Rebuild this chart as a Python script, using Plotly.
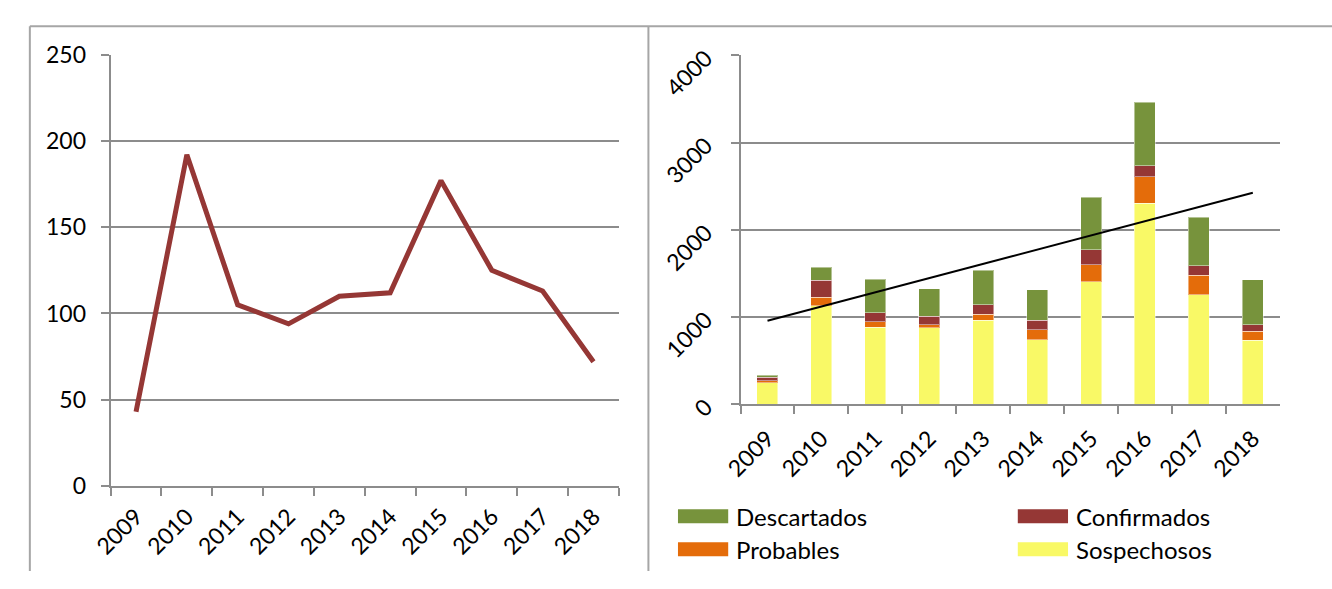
import numpy as np
import plotly.graph_objects as go

years = ["2009", "2010", "2011", "2012", "2013", "2014", "2015", "2016", "2017", "2018"]

confirmados = [43, 192, 105, 94, 110, 112, 177, 125, 113, 72]
sospechosos = [245, 1130, 884, 874, 960, 740, 1401, 2303, 1256, 736]
probables = [22, 97, 62, 39, 72, 112, 195, 307, 221, 102]
descartados = [22, 151, 382, 314, 392, 350, 599, 727, 551, 516]

left_yticks = [0, 50, 100, 150, 200, 250]
right_yticks = [0, 1000, 2000, 3000, 4000]

series = [
    ("Sospechosos", sospechosos, "#F9F966"),
    ("Probables", probables, "#E46C0A"),
    ("Confirmados", confirmados, "#953735"),
    ("Descartados", descartados, "#77933C"),
]

W, H = 1332, 589
FONT = "Lato, Carlito, Calibri, sans-serif"
GRID = "#8c8c8c"
FRAME = "#a6a6a6"

fig = go.Figure()

# Left chart: confirmed cases
fig.add_trace(go.Scatter(
    x=years, y=confirmados, mode="lines",
    line=dict(color="#953735", width=5),
    xaxis="x", yaxis="y", showlegend=False, hoverinfo="x+y",
))

# Right chart: stacked bars
for name, vals, col in series:
    fig.add_trace(go.Bar(
        x=years, y=vals, name=name,
        marker=dict(color=col, line=dict(color="rgba(255,255,255,0.45)", width=1)),
        xaxis="x2", yaxis="y2", showlegend=False,
    ))

# Linear trend of the totals
totals = np.array(sospechosos) + np.array(probables) + np.array(confirmados) + np.array(descartados)
idx = np.arange(len(years))
slope, intercept = np.polyfit(idx, totals, 1)
trend = slope * idx + intercept
fig.add_trace(go.Scatter(
    x=years, y=trend, mode="lines", line=dict(color="black", width=2),
    xaxis="x2", yaxis="y2", showlegend=False, hoverinfo="skip",
))

def px(x):
    return x / W

def py(y):
    return 1 - y / H

axis_common = dict(
    showline=True, linecolor=GRID, linewidth=2,
    ticks="outside", ticklen=8, tickwidth=2, tickcolor=GRID,
    tickfont=dict(family=FONT, size=23, color="black"),
    zeroline=False, fixedrange=True,
)

fig.update_layout(
    width=W, height=H,
    margin=dict(l=0, r=0, t=0, b=0),
    paper_bgcolor="white", plot_bgcolor="white",
    barmode="stack", bargap=0.61,
    font=dict(family=FONT, color="black"),
    xaxis=dict(domain=[px(92), px(608)], anchor="y", type="category",
               tickson="boundaries", tickangle=-45, showgrid=False,
               range=[-0.5, 9.5], ticklabelstandoff=6, **axis_common),
    yaxis=dict(domain=[py(499), py(42)], anchor="x", range=[0, 250],
               tickvals=left_yticks, showgrid=True, gridcolor=GRID, gridwidth=2,
               ticklabelstandoff=10, **axis_common),
    xaxis2=dict(domain=[px(731.5), px(1279)], anchor="y2", type="category",
                tickson="boundaries", tickangle=-45, showgrid=False,
                range=[-0.5, 9.5], ticklabelstandoff=10, **axis_common),
    yaxis2=dict(domain=[py(412.3), py(42.7)], anchor="x2", range=[0, 4000],
                tickvals=right_yticks, tickangle=-45, showgrid=True, gridcolor=GRID, gridwidth=2,
                ticklabelstandoff=20, **axis_common),
)

# Outer frame and divider between the two charts
shapes = [
    dict(type="line", xref="paper", yref="paper", x0=px(10), x1=1, y0=py(12), y1=py(12),
         line=dict(color=FRAME, width=2)),
    dict(type="line", xref="paper", yref="paper", x0=px(10), x1=px(10), y0=py(12), y1=0,
         line=dict(color=FRAME, width=2)),
    dict(type="line", xref="paper", yref="paper", x0=px(638), x1=px(638), y0=py(12), y1=0,
         line=dict(color=FRAME, width=2)),
]

# Legend laid out 2 x 2 like the original
legend_items = [
    ("Descartados", "#77933C", 668, 531),
    ("Confirmados", "#953735", 1013, 531),
    ("Probables", "#E46C0A", 668, 566),
    ("Sospechosos", "#F9F966", 1013, 566),
]
annotations = []
for name, col, x0, yc in legend_items:
    shapes.append(dict(type="rect", xref="paper", yref="paper",
                       x0=px(x0), x1=px(x0 + 51), y0=py(yc + 7.5), y1=py(yc - 7.5),
                       fillcolor=col, line=dict(width=0)))
    annotations.append(dict(xref="paper", yref="paper", x=px(x0 + 57), y=py(yc),
                            text=name, showarrow=False, xanchor="left", yanchor="middle",
                            font=dict(family=FONT, size=24, color="black")))

fig.update_layout(shapes=shapes, annotations=annotations)

fig.write_html("out.html")
